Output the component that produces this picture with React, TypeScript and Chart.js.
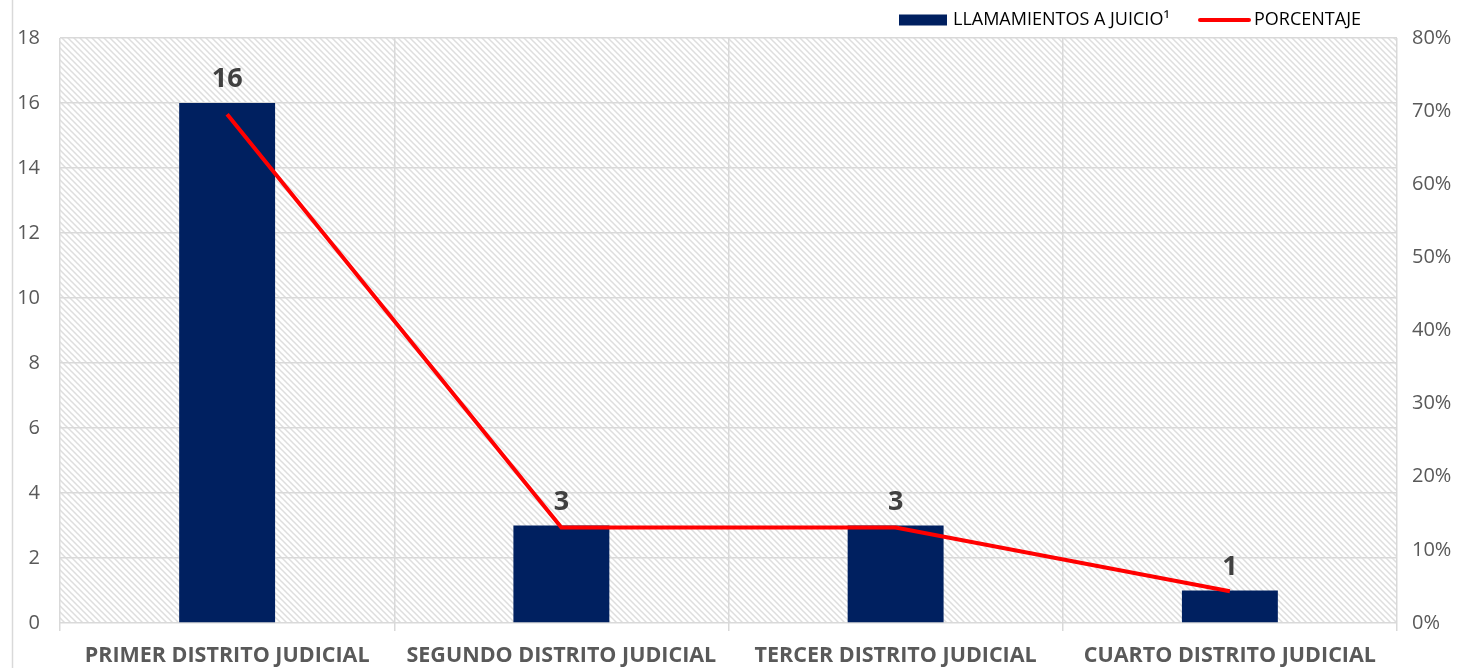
import React, { useEffect, useRef } from "react";
import { Chart, registerables } from "chart.js";

Chart.register(...registerables);

const categories = [
  "PRIMER DISTRITO JUDICIAL",
  "SEGUNDO DISTRITO JUDICIAL",
  "TERCER DISTRITO JUDICIAL",
  "CUARTO DISTRITO JUDICIAL",
];
const llamamientos = [16, 3, 3, 1];
const total = 23;
const porcentaje = [16 / total, 3 / total, 3 / total, 1 / total];
const barLabel = "LLAMAMIENTOS A JUICIO¹";
const lineLabel = "PORCENTAJE";

const FONT = "'Open Sans', 'Liberation Sans', sans-serif";
const BAR_COLOR = "#002060";
const LINE_COLOR = "#ff0000";
const GRID = "#d9d9d9";

function makePattern(ctx: CanvasRenderingContext2D) {
  const c = document.createElement("canvas");
  const s = 6;
  c.width = s;
  c.height = s;
  const p = c.getContext("2d")!;
  p.fillStyle = "#ffffff";
  p.fillRect(0, 0, s, s);
  p.strokeStyle = "#dedede";
  p.lineWidth = 1.5;
  p.beginPath();
  p.moveTo(-1, -1);
  p.lineTo(s + 1, s + 1);
  p.moveTo(-1, s - 1);
  p.lineTo(1, s + 1);
  p.moveTo(s - 1, -1);
  p.lineTo(s + 1, 1);
  p.stroke();
  return ctx.createPattern(c, "repeat");
}

const decorPlugin = {
  id: "decor",
  beforeDraw(chart: any) {
    const { ctx, chartArea } = chart;
    ctx.save();
    ctx.fillStyle = "#ffffff";
    ctx.fillRect(0, 0, chart.width, chart.height);
    const pat = makePattern(ctx);
    if (pat) {
      ctx.fillStyle = pat;
      ctx.fillRect(chartArea.left, chartArea.top, chartArea.right - chartArea.left, chartArea.bottom - chartArea.top);
    }
    ctx.strokeStyle = GRID;
    ctx.lineWidth = 1.5;
    ctx.beginPath();
    ctx.moveTo(12.5, 0);
    ctx.lineTo(12.5, chart.height);
    ctx.stroke();
    ctx.restore();
  },
  afterDraw(chart: any) {
    const { ctx } = chart;
    ctx.save();
    const meta = chart.getDatasetMeta(0);
    ctx.font = `bold 27px ${FONT}`;
    ctx.fillStyle = "#404040";
    ctx.textAlign = "center";
    ctx.textBaseline = "alphabetic";
    meta.data.forEach((bar: any, i: number) => {
      ctx.fillText(String(llamamientos[i]), bar.x, bar.y - 16);
    });
    ctx.font = `18px ${FONT}`;
    ctx.textAlign = "left";
    ctx.textBaseline = "middle";
    const ly = 20;
    ctx.fillStyle = BAR_COLOR;
    ctx.fillRect(899, ly - 5.5, 48, 11);
    ctx.fillStyle = "#000000";
    ctx.fillText(barLabel, 953, ly);
    ctx.strokeStyle = LINE_COLOR;
    ctx.lineWidth = 4;
    ctx.lineCap = "round";
    ctx.beginPath();
    ctx.moveTo(1200, ly);
    ctx.lineTo(1249, ly);
    ctx.stroke();
    ctx.fillText(lineLabel, 1254, ly);
    ctx.restore();
  },
};

export default function App() {
  const ref = useRef<HTMLCanvasElement | null>(null);
  useEffect(() => {
    document.body.style.margin = "0";
    const canvas = ref.current!;
    const chart = new Chart(canvas, {
      type: "bar",
      data: {
        labels: categories,
        datasets: [
          {
            type: "bar",
            label: barLabel,
            data: llamamientos,
            backgroundColor: BAR_COLOR,
            borderWidth: 0,
            yAxisID: "y",
            categoryPercentage: 1,
            barPercentage: 0.287,
            order: 2,
          },
          {
            type: "line",
            label: lineLabel,
            data: porcentaje,
            borderColor: LINE_COLOR,
            backgroundColor: LINE_COLOR,
            borderWidth: 4,
            pointRadius: 0,
            tension: 0,
            yAxisID: "y1",
            order: 1,
          } as any,
        ],
      },
      options: {
        responsive: false,
        animation: false,
        layout: { padding: { top: 38, left: 0, right: 0, bottom: 0 } },
        plugins: {
          legend: { display: false },
          tooltip: { enabled: false },
        },
        scales: {
          x: {
            offset: true,
            grid: { offset: true, color: GRID, lineWidth: 1.5, tickLength: 8, drawTicks: true },
            border: { display: false },
            ticks: {
              color: "#595959",
              font: { family: FONT, size: 21.5, weight: "bold" },
              padding: 12,
              maxRotation: 0,
              autoSkip: false,
            },
            afterFit: (s: any) => {
              s.height = 45;
            },
          },
          y: {
            position: "left",
            min: 0,
            max: 18,
            ticks: { stepSize: 2, color: "#595959", font: { family: FONT, size: 20 }, padding: 20 },
            grid: { color: GRID, lineWidth: 1.5, drawTicks: false },
            border: { display: false },
            afterFit: (s: any) => {
              s.width = 60;
            },
          },
          y1: {
            position: "right",
            min: 0,
            max: 0.8,
            ticks: {
              stepSize: 0.1,
              color: "#595959",
              font: { family: FONT, size: 20 },
              padding: 15,
              callback: (v: any) => `${Math.round(Number(v) * 100)}%`,
            },
            grid: { display: false, drawTicks: false },
            border: { display: false },
            afterFit: (s: any) => {
              s.width = 71;
            },
          },
        },
      },
      plugins: [decorPlugin],
    });
    return () => chart.destroy();
  }, []);
  return <canvas ref={ref} width={1468} height={668} style={{ display: "block" }} />;
}
